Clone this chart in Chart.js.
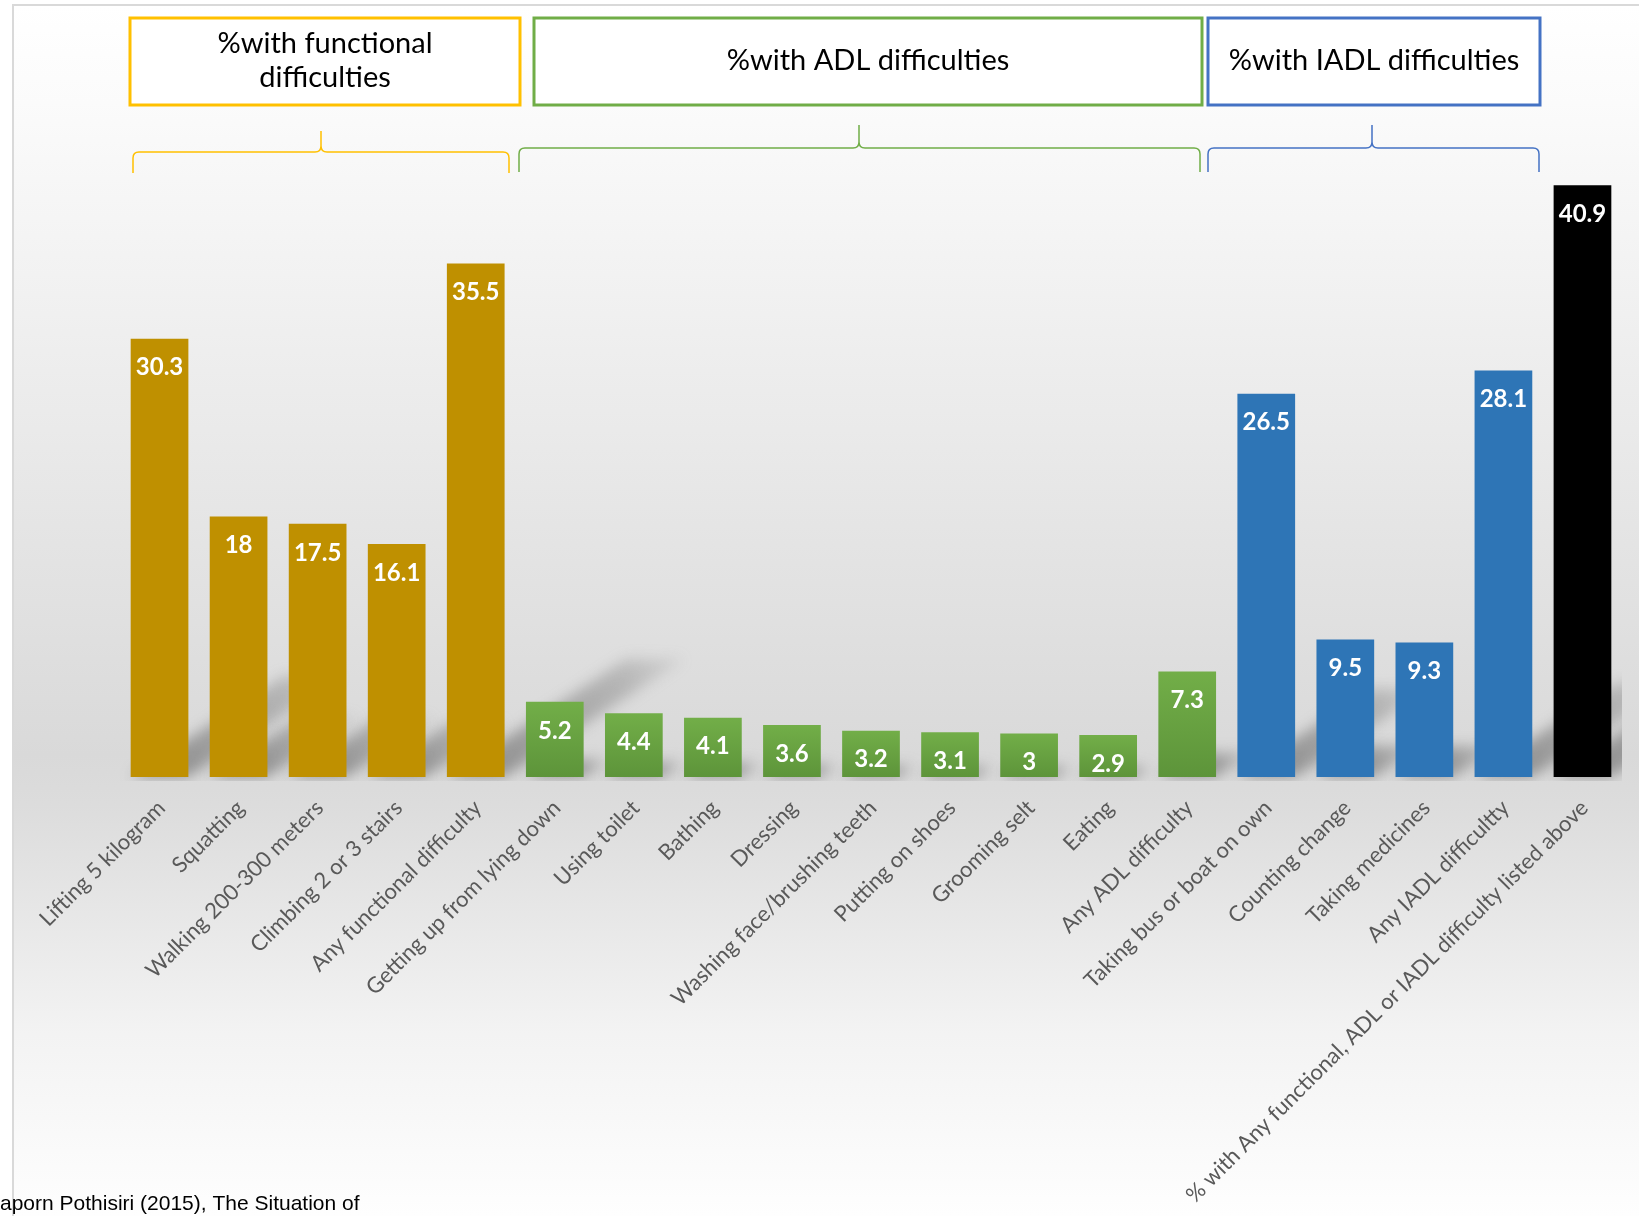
<!DOCTYPE html>
<html>
<head>
<meta charset="utf-8">
<title>Functional, ADL and IADL difficulties</title>
<script src="https://cdn.jsdelivr.net/npm/chart.js@4.4.1/dist/chart.umd.min.js"></script>
<style>
  html, body { margin: 0; padding: 0; background: #ffffff; overflow: hidden; }
  #wrap { position: absolute; left: 0; top: 0; width: 1639px; height: 1216px; }
</style>
</head>
<body>
<div id="wrap"><canvas id="myChart"></canvas></div>
<script>
// categories and values
var labels = [
  'Lifting 5 kilogram', 'Squatting', 'Walking 200-300 meters', 'Climbing 2 or 3 stairs',
  'Any functional difficulty', 'Getting up from lying down', 'Using toilet', 'Bathing',
  'Dressing', 'Washing face/brushing teeth', 'Putting on shoes', 'Grooming selt', 'Eating',
  'Any ADL difficulty', 'Taking bus or boat on own', 'Counting change', 'Taking medicines',
  'Any IADL difficultty', '% with Any functional, ADL or IADL difficulty listed above'
];
var values = [30.3, 18, 17.5, 16.1, 35.5, 5.2, 4.4, 4.1, 3.6, 3.2, 3.1, 3, 2.9, 7.3, 26.5, 9.5, 9.3, 28.1, 40.9];
var groups = ['func', 'func', 'func', 'func', 'func', 'adl', 'adl', 'adl', 'adl', 'adl', 'adl', 'adl', 'adl', 'adl',
  'iadl', 'iadl', 'iadl', 'iadl', 'any'];

var groupColors = { func: '#BF9000', adl: '#70AD47', iadl: '#2E75B6', any: '#000000' };

// header boxes and braces above the bars
var headers = [
  { lines: ['%with functional', 'difficulties'], color: '#FFC000', box: [130, 18, 520, 105], brace: [133, 509, 321, 131, 152, 173] },
  { lines: ['%with ADL difficulties'], color: '#70AD47', box: [534, 18, 1202, 105], brace: [519, 1200, 859, 125, 148, 172] },
  { lines: ['%with IADL difficulties'], color: '#4472C4', box: [1208, 18, 1540, 105], brace: [1208, 1539, 1372, 125, 148, 172] }
];

function barColor(c) {
  var i = c.dataIndex;
  var g = groups[i];
  if (g !== 'adl') return groupColors[g];
  var chart = c.chart;
  var area = chart.chartArea;
  if (!area || !chart.scales.y) return groupColors.adl;
  var top = chart.scales.y.getPixelForValue(values[i]);
  var grad = chart.ctx.createLinearGradient(0, top, 0, area.bottom);
  grad.addColorStop(0, '#72AE48');
  grad.addColorStop(1, '#5D943A');
  return grad;
}

function drawBrace(ctx, b, color) {
  var x0 = b[0], x1 = b[1], tip = b[2], yTop = b[3], yH = b[4], yEnd = b[5];
  var r = 6;
  ctx.save();
  ctx.strokeStyle = color;
  ctx.lineWidth = 1.5;
  ctx.beginPath();
  ctx.moveTo(x0, yEnd);
  ctx.lineTo(x0, yH + r);
  ctx.quadraticCurveTo(x0, yH, x0 + r, yH);
  ctx.lineTo(tip - r, yH);
  ctx.quadraticCurveTo(tip, yH, tip, yH - r);
  ctx.lineTo(tip, yTop);
  ctx.moveTo(tip, yH - r);
  ctx.quadraticCurveTo(tip, yH, tip + r, yH);
  ctx.lineTo(x1 - r, yH);
  ctx.quadraticCurveTo(x1, yH, x1, yH + r);
  ctx.lineTo(x1, yEnd);
  ctx.stroke();
  ctx.restore();
}

var backdrop = {
  id: 'backdrop',
  beforeDraw: function(chart) {
    var ctx = chart.ctx;
    var w = chart.width, h = chart.height;
    ctx.save();
    ctx.fillStyle = '#ffffff';
    ctx.fillRect(0, 0, w, h);
    var grad = ctx.createLinearGradient(0, 5, 0, h);
    grad.addColorStop(0, '#ffffff');
    grad.addColorStop(0.08, '#fbfbfb');
    grad.addColorStop(0.62, '#d9d9d9');
    grad.addColorStop(0.66, '#dcdcdc');
    grad.addColorStop(0.85, '#f3f3f3');
    grad.addColorStop(1, '#fefefe');
    ctx.fillStyle = grad;
    ctx.fillRect(13, 5, w - 13, h - 5);
    ctx.strokeStyle = '#d9d9d9';
    ctx.lineWidth = 2;
    ctx.beginPath();
    ctx.moveTo(13, h);
    ctx.lineTo(13, 5);
    ctx.lineTo(w, 5);
    ctx.stroke();

    headers.forEach(function(hd) {
      var bx = hd.box;
      ctx.fillStyle = '#ffffff';
      ctx.fillRect(bx[0], bx[1], bx[2] - bx[0], bx[3] - bx[1]);
      ctx.strokeStyle = hd.color;
      ctx.lineWidth = 3;
      ctx.strokeRect(bx[0], bx[1], bx[2] - bx[0], bx[3] - bx[1]);
      ctx.fillStyle = '#000000';
      ctx.font = '29px Lato';
      ctx.textAlign = 'center';
      ctx.textBaseline = 'middle';
      var cx = (bx[0] + bx[2]) / 2, cy = (bx[1] + bx[3]) / 2;
      var n = hd.lines.length;
      hd.lines.forEach(function(t, k) {
        ctx.fillText(t, cx, cy - 1 + (k - (n - 1) / 2) * 34);
      });
      drawBrace(ctx, hd.brace, hd.color);
    });

    ctx.fillStyle = '#000000';
    ctx.font = '21px "Liberation Sans"';
    ctx.textAlign = 'left';
    ctx.textBaseline = 'alphabetic';
    ctx.fillText('aporn Pothisiri (2015), The Situation of', 0, 1210, 361);
    ctx.restore();
  },
  beforeDatasetsDraw: function(chart) {
    // soft perspective shadows behind each bar
    var ctx = chart.ctx;
    var area = chart.chartArea;
    var bars = chart.getDatasetMeta(0).data;
    ctx.save();
    ctx.beginPath();
    ctx.rect(area.left, area.top, area.right - area.left, area.bottom - area.top + 4);
    ctx.clip();
    ctx.filter = 'blur(7px)';
    bars.forEach(function(bar) {
      var hgt = bar.base - bar.y;
      var dx = hgt * 0.35, dy = hgt * 0.23;
      var l = bar.x - bar.width / 2, r = bar.x + bar.width / 2;
      var g = ctx.createLinearGradient(r, bar.base, r + dx, bar.base - dy);
      g.addColorStop(0, 'rgba(90,90,90,0.55)');
      g.addColorStop(0.7, 'rgba(110,110,110,0.35)');
      g.addColorStop(1, 'rgba(140,140,140,0.15)');
      ctx.fillStyle = g;
      ctx.beginPath();
      ctx.moveTo(l, bar.base);
      ctx.lineTo(r, bar.base);
      ctx.lineTo(r + dx, bar.base - dy);
      ctx.lineTo(l + dx, bar.base - dy);
      ctx.closePath();
      ctx.fill();
    });
    ctx.restore();
  },
  afterDatasetsDraw: function(chart) {
    var ctx = chart.ctx;
    var bars = chart.getDatasetMeta(0).data;
    ctx.save();
    ctx.fillStyle = '#ffffff';
    ctx.font = 'bold 24px Lato';
    ctx.textAlign = 'center';
    ctx.textBaseline = 'middle';
    bars.forEach(function(bar, i) {
      ctx.fillText(String(values[i]), bar.x, bar.y + 29);
    });
    ctx.restore();
  }
};

var myChart = document.getElementById('myChart').getContext('2d');
var chart = new Chart(myChart, {
  type: 'bar',
  data: {
    labels: labels,
    datasets: [{
      data: values,
      backgroundColor: barColor,
      borderWidth: 0,
      barPercentage: 0.73,
      categoryPercentage: 1
    }]
  },
  options: {
    responsive: true,
    maintainAspectRatio: false,
    animation: false,
    layout: { padding: { left: 120, right: 17, top: 126, bottom: 0 } },
    plugins: {
      legend: { display: false },
      tooltip: { enabled: false }
    },
    scales: {
      x: {
        grid: { display: false },
        border: { display: false },
        ticks: {
          color: '#595959',
          font: { family: 'Lato', size: 22 },
          maxRotation: 45,
          minRotation: 45,
          autoSkip: false,
          labelOffset: 2,
          padding: 10
        },
        afterFit: function(scale) { scale.height = 439; }
      },
      y: {
        display: false,
        min: 0,
        max: 45
      }
    }
  },
  plugins: [backdrop]
});
</script>
</body>
</html>
